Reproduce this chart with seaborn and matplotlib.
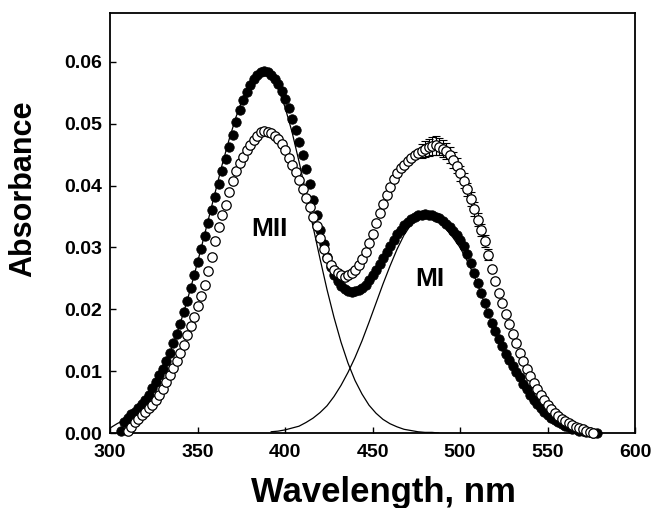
import numpy as np
import matplotlib
matplotlib.use('Agg')
import matplotlib.pyplot as plt
import seaborn as sns

# ========== Data ==========

# wavelength grid of the measured spectra, nm
wl_dark = np.arange(306, 579, 2)
wl_light = np.arange(310, 577, 2)

# filled circles
abs_dark = [
    0.0003, 0.0017, 0.0025, 0.0030, 0.0034, 0.0040, 0.0047, 0.0054, 0.0062, 0.0072,
    0.0082, 0.0093, 0.0104, 0.0117, 0.0130, 0.0145, 0.0160, 0.0177, 0.0195, 0.0214,
    0.0234, 0.0255, 0.0276, 0.0297, 0.0318, 0.0339, 0.0360, 0.0381, 0.0402, 0.0423,
    0.0443, 0.0463, 0.0482, 0.0503, 0.0522, 0.0538, 0.0552, 0.0563, 0.0572, 0.0579,
    0.0584, 0.0585, 0.0583, 0.0579, 0.0573, 0.0564, 0.0553, 0.0540, 0.0525, 0.0508,
    0.0490, 0.0471, 0.0450, 0.0427, 0.0402, 0.0377, 0.0352, 0.0328, 0.0305, 0.0285,
    0.0268, 0.0255, 0.0245, 0.0238, 0.0233, 0.0230, 0.0228, 0.0229, 0.0231, 0.0235,
    0.0240, 0.0247, 0.0255, 0.0264, 0.0273, 0.0283, 0.0293, 0.0303, 0.0312, 0.0321,
    0.0329, 0.0336, 0.0341, 0.0346, 0.0349, 0.0352, 0.0353, 0.0354, 0.0353, 0.0352,
    0.0350, 0.0347, 0.0343, 0.0338, 0.0333, 0.0327, 0.0320, 0.0312, 0.0302, 0.0290,
    0.0275, 0.0259, 0.0243, 0.0227, 0.0210, 0.0194, 0.0178, 0.0165, 0.0152, 0.0140,
    0.0128, 0.0118, 0.0108, 0.0099, 0.0090, 0.0080, 0.0071, 0.0062, 0.0054, 0.0047,
    0.0040, 0.0034, 0.0029, 0.0025, 0.0021, 0.0017, 0.0014, 0.0011, 0.0009, 0.0007,
    0.0006, 0.0004, 0.0003, 0.0002, 0.0001, 0.0000, 0.0000,
]

# open circles
abs_light = [
    0.0003, 0.0010, 0.0017, 0.0023, 0.0029, 0.0034, 0.0040, 0.0046, 0.0054, 0.0062,
    0.0071, 0.0082, 0.0094, 0.0105, 0.0117, 0.0130, 0.0143, 0.0158, 0.0173, 0.0188,
    0.0205, 0.0222, 0.0240, 0.0262, 0.0285, 0.0310, 0.0333, 0.0352, 0.0368, 0.0390,
    0.0408, 0.0423, 0.0437, 0.0447, 0.0457, 0.0466, 0.0474, 0.0481, 0.0486, 0.0488,
    0.0487, 0.0485, 0.0481, 0.0475, 0.0468, 0.0457, 0.0445, 0.0434, 0.0422, 0.0409,
    0.0395, 0.0380, 0.0365, 0.0349, 0.0334, 0.0315, 0.0297, 0.0283, 0.0272, 0.0264,
    0.0258, 0.0255, 0.0253, 0.0255, 0.0258, 0.0264, 0.0272, 0.0281, 0.0293, 0.0307,
    0.0322, 0.0339, 0.0355, 0.0370, 0.0385, 0.0398, 0.0410, 0.0420, 0.0428, 0.0434,
    0.0440, 0.0445, 0.0450, 0.0453, 0.0456, 0.0459, 0.0462, 0.0464, 0.0465, 0.0463,
    0.0460, 0.0456, 0.0450, 0.0442, 0.0432, 0.0420, 0.0408, 0.0394, 0.0378, 0.0362,
    0.0345, 0.0328, 0.0310, 0.0288, 0.0265, 0.0246, 0.0227, 0.0210, 0.0193, 0.0176,
    0.0160, 0.0145, 0.0130, 0.0117, 0.0104, 0.0092, 0.0081, 0.0071, 0.0062, 0.0054,
    0.0046, 0.0039, 0.0033, 0.0028, 0.0023, 0.0019, 0.0016, 0.0013, 0.0010, 0.0008,
    0.0006, 0.0004, 0.0002, 0.0000,
]

# error bars on the open circles (478-516 nm)
err_wl = np.arange(478, 517, 2)
err_val = [
    0.0012, 0.0013, 0.0014, 0.0014, 0.0015, 0.0014, 0.0014, 0.0013, 0.0013, 0.0013,
    0.0012, 0.0012, 0.0012, 0.0011, 0.0011, 0.0011, 0.0010, 0.0010, 0.0010, 0.0009,
]

# fitted components (thin lines)
wl_mii = np.arange(300, 489, 4)
fit_mii = [
    0.0008, 0.0015, 0.0021, 0.0029, 0.0039, 0.0053, 0.0069, 0.0090, 0.0114, 0.0143,
    0.0176, 0.0213, 0.0254, 0.0298, 0.0343, 0.0388, 0.0433, 0.0474, 0.0511, 0.0542,
    0.0565, 0.0579, 0.0584, 0.0577, 0.0558, 0.0527, 0.0487, 0.0439, 0.0388, 0.0334,
    0.0282, 0.0232, 0.0187, 0.0147, 0.0113, 0.0085, 0.0063, 0.0045, 0.0032, 0.0022,
    0.0015, 0.0010, 0.0006, 0.0004, 0.0002, 0.0001, 0.0001, 0.0000,
]

wl_mi = np.arange(392, 577, 4)
fit_mi = [
    0.0002, 0.0003, 0.0005, 0.0008, 0.0011, 0.0017, 0.0024, 0.0033, 0.0044, 0.0059,
    0.0077, 0.0098, 0.0122, 0.0149, 0.0179, 0.0210, 0.0241, 0.0270, 0.0297, 0.0320,
    0.0337, 0.0348, 0.0352, 0.0350, 0.0342, 0.0330, 0.0316, 0.0300, 0.0279, 0.0255,
    0.0226, 0.0194, 0.0164, 0.0139, 0.0116, 0.0095, 0.0077, 0.0061, 0.0048, 0.0037,
    0.0028, 0.0021, 0.0015, 0.0011, 0.0008, 0.0005, 0.0004,
]

# ========== Plot ==========

sns.set_style('ticks')
plt.rcParams['font.family'] = ['Liberation Sans', 'DejaVu Sans']
plt.rcParams['font.weight'] = 'bold'
plt.rcParams['text.color'] = 'black'
plt.rcParams['axes.labelcolor'] = 'black'
plt.rcParams['xtick.color'] = 'black'
plt.rcParams['ytick.color'] = 'black'

fig = plt.figure(figsize=(6.53, 5.08), dpi=100)
ax = fig.add_axes([110 / 653, 1 - 433 / 508, 525 / 653, 420.5 / 508])

sns.lineplot(x=wl_mii, y=fit_mii, color='black', linewidth=0.9, ax=ax, zorder=1)
sns.lineplot(x=wl_mi, y=fit_mi, color='black', linewidth=0.9, ax=ax, zorder=1)

sns.scatterplot(x=wl_dark, y=abs_dark, marker='o', s=46, color='black',
                edgecolor='black', linewidth=0.6, ax=ax, zorder=2, clip_on=False)

err_y = [abs_light[(w - 310) // 2] for w in err_wl]
ax.errorbar(err_wl, err_y, yerr=err_val, fmt='none', ecolor='black',
            elinewidth=0.8, capsize=3, capthick=0.8, zorder=2.5)

sns.scatterplot(x=wl_light, y=abs_light, marker='o', s=46, facecolor='white',
                edgecolor='black', linewidth=0.9, ax=ax, zorder=3, clip_on=False)

ax.text(391, 0.033, 'MII', fontsize=19, fontweight='bold', ha='center', va='center')
ax.text(483, 0.0249, 'MI', fontsize=19, fontweight='bold', ha='center', va='center')

ax.set_xlim(300, 600)
ax.set_ylim(0, 0.068)
ax.set_xticks([300, 350, 400, 450, 500, 550, 600])
ax.set_yticks([0.00, 0.01, 0.02, 0.03, 0.04, 0.05, 0.06])
ax.set_yticklabels(['%.2f' % v for v in ax.get_yticks()])
ax.tick_params(axis='both', direction='in', length=4, width=1, labelsize=14,
               colors='black')
ax.tick_params(axis='x', pad=8)
ax.tick_params(axis='y', pad=6)
for lab in ax.get_xticklabels() + ax.get_yticklabels():
    lab.set_fontweight('bold')

for sp in ax.spines.values():
    sp.set_visible(True)
    sp.set_linewidth(1.3)
    sp.set_color('black')

ax.set_xlabel('')
ax.set_ylabel('')
fig.text(383 / 653, 1 - 476 / 508, 'Wavelength, nm', fontsize=25,
         fontweight='bold', ha='center', va='top', color='black')
fig.text(23 / 653, 1 - 189 / 508, 'Absorbance', fontsize=22,
         fontweight='bold', ha='center', va='center', rotation=90, color='black')

fig.savefig('out.png', dpi=100)
plt.close(fig)
